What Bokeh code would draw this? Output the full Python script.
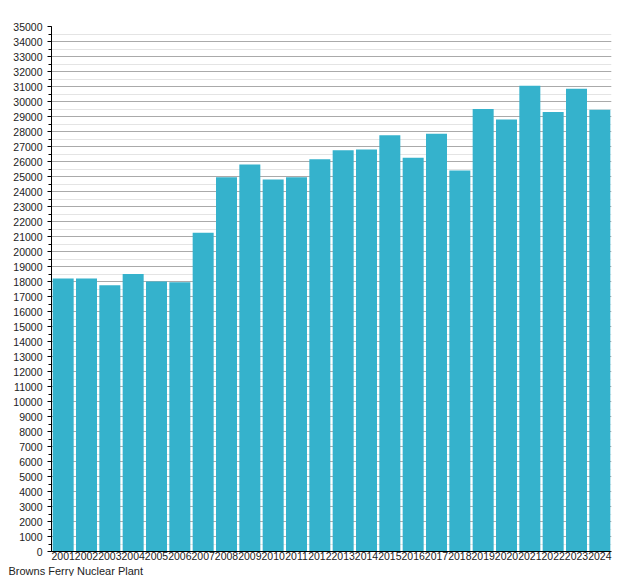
from bokeh.plotting import figure
from bokeh.models import Range1d, SingleIntervalTicker, Title, FactorRange
from bokeh.embed import file_html
from bokeh.resources import INLINE

years = [str(y) for y in range(2001, 2025)]
values = [18200, 18200, 17750, 18500, 18000, 17950, 21250, 24950,
          25800, 24800, 24950, 26150, 26750, 26800, 27750, 26250,
          27850, 25400, 29500, 28800, 31050, 29300, 30850, 29450]
plant = "Browns Ferry Nuclear Plant"

FONT = "Liberation Sans"

p = figure(x_range=FactorRange(*years, range_padding=0), y_range=Range1d(0, 35000),
           frame_width=560, frame_height=525,
           min_border_left=51, min_border_right=8, min_border_top=26, min_border_bottom=0,
           output_backend="svg", toolbar_location=None)
p.outline_line_color = None

p.vbar(x=years, top=values, width=0.9, color="#35b2cc", line_color=None)

p.yaxis.ticker = SingleIntervalTicker(interval=1000, num_minor_ticks=2)
p.yaxis.major_label_text_font = FONT
p.yaxis.major_label_text_font_size = "10.5px"
p.yaxis.major_label_text_color = "#222222"
p.yaxis.axis_line_color = "#000000"
p.yaxis.major_tick_line_color = "#000000"
p.yaxis.minor_tick_line_color = "#000000"
p.yaxis.major_tick_out = 4
p.yaxis.major_tick_in = 0
p.yaxis.minor_tick_out = 3
p.yaxis.minor_tick_in = 0
p.yaxis.major_label_standoff = 5

p.xaxis.major_label_text_font = FONT
p.xaxis.major_label_text_font_size = "10.5px"
p.xaxis.major_label_text_color = "#222222"
p.xaxis.axis_line_color = "#000000"
p.xaxis.major_tick_line_color = None
p.xaxis.major_tick_out = 0
p.xaxis.major_tick_in = 0
p.xaxis.minor_tick_line_color = None
p.xaxis.major_label_standoff = 0

p.xgrid.grid_line_color = None
p.ygrid.grid_line_color = "#aaaaaa"
p.ygrid.minor_grid_line_color = "#e4e4e4"

t = Title(text=plant, align="left", text_font=FONT, text_font_size="11px",
          text_font_style="normal", text_color="#222222", offset=-43,
          standoff=0)
p.add_layout(t, "below")

open("out.html", "w").write(file_html(p, INLINE))
